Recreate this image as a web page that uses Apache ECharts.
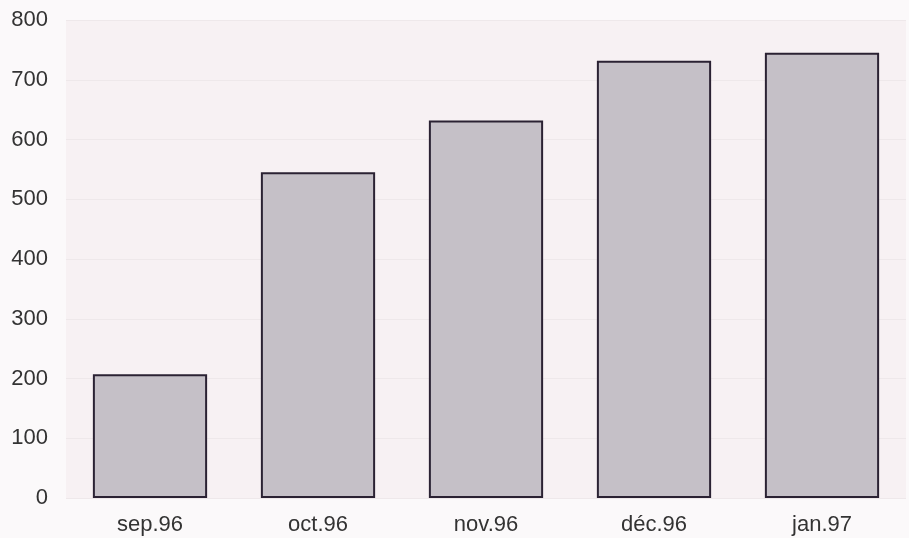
<!DOCTYPE html>
<html>
<head>
<meta charset="utf-8">
<script src="https://cdn.jsdelivr.net/npm/echarts@6/dist/echarts.min.js"></script>
<style>
  html, body { margin: 0; padding: 0; background: #fbf9fa; }
  #chart { width: 909px; height: 538px; }
</style>
</head>
<body>
<div id="chart"></div>
<script>
// Monthly totals, Sept. 1996 – Jan. 1997
const months = ['sep.96', 'oct.96', 'nov.96', 'déc.96', 'jan.97'];
const totals = [207, 545, 632, 732, 745];
const yTicks = [0, 100, 200, 300, 400, 500, 600, 700, 800];

const chart = echarts.init(document.getElementById('chart'), null, { renderer: 'canvas' });
chart.setOption({
  animation: false,
  backgroundColor: '#fbf9fa',
  grid: {
    left: 66, right: 3, top: 20, bottom: 40,
    show: true,
    backgroundColor: '#f7f1f3',
    borderWidth: 0
  },
  xAxis: {
    type: 'category',
    data: months,
    axisLine: { show: false },
    axisTick: { show: false },
    axisLabel: {
      color: '#333',
      fontFamily: 'Liberation Sans, Arial, sans-serif',
      fontSize: 22,
      margin: 16
    }
  },
  yAxis: {
    type: 'value',
    min: yTicks[0],
    max: yTicks[yTicks.length - 1],
    interval: 100,
    axisLine: { show: false },
    axisTick: { show: false },
    splitLine: { lineStyle: { color: '#eee8ea', width: 1 } },
    axisLabel: {
      color: '#333',
      fontFamily: 'Liberation Sans, Arial, sans-serif',
      fontSize: 22,
      margin: 18
    }
  },
  series: [{
    type: 'bar',
    data: totals,
    barCategoryGap: '32%',
    itemStyle: {
      color: '#c5c0c7',
      borderColor: '#2b2233',
      borderWidth: 2
    }
  }]
});
</script>
</body>
</html>
